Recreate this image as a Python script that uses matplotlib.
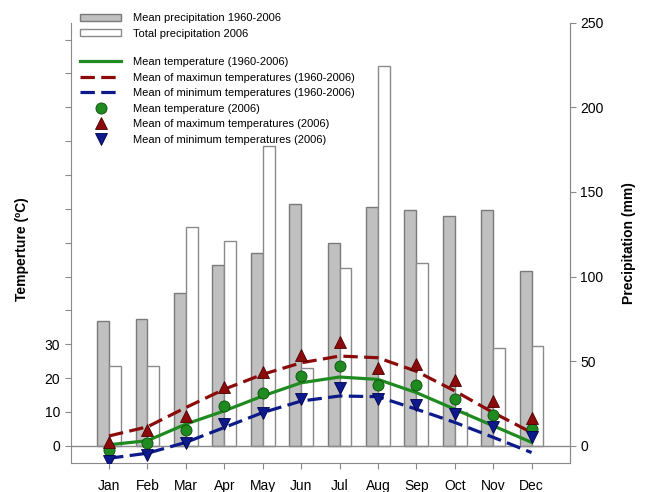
import numpy as np
import matplotlib.pyplot as plt
from matplotlib.patches import Patch
from matplotlib.lines import Line2D

plt.rcParams['font.family'] = ['Liberation Sans', 'DejaVu Sans']

months = ["Jan", "Feb", "Mar", "Apr", "May", "Jun",
          "Jul", "Aug", "Sep", "Oct", "Nov", "Dec"]

# precipitation (mm)
prec_mean = [74, 75, 90, 107, 114, 143, 120, 141, 139, 136, 139, 103.5]
prec_2006 = [47, 47, 129, 121, 177, 46, 105, 224.5, 108, 20, 58, 59]

# temperatures 1960-2006 (ºC)
t_mean = [0.3, 1.5, 6.4, 10.3, 14.7, 18.6, 20.3, 19.6, 15.7, 10.8, 5.9, 1.0]
t_max = [2.9, 5.6, 11.3, 16.7, 21.1, 24.5, 26.5, 26.0, 22.0, 16.2, 9.8, 3.9]
t_min = [-3.7, -2.2, 1.0, 5.4, 9.8, 13.2, 14.7, 14.5, 10.8, 6.9, 2.5, -2.0]

# temperatures 2006 (ºC)
t_mean06 = [-1.2, 0.8, 4.7, 11.8, 15.7, 20.6, 23.7, 17.9, 17.9, 13.7, 9.0, 4.9]
t_max06 = [1.2, 4.7, 8.8, 17.5, 21.8, 26.7, 30.6, 23.1, 24.2, 19.3, 13.2, 8.1]
t_min06 = [-4.4, -2.6, 0.8, 6.4, 9.8, 13.9, 17.2, 13.9, 12.0, 9.3, 5.4, 2.5]

x = np.arange(1, 13)
green = "#1f8a1f"
red = "#8b0a0a"
blue = "#0c1a8a"
spine_c = "#8a8a8a"

fig = plt.figure(figsize=(6.46, 4.92), dpi=100)
ax = fig.add_axes([0.1094, 0.0596, 0.7729, 0.8944])
ax2 = ax.twinx()

w = 0.31
ax2.bar(x, prec_mean, width=-w, align='edge', color="#c0c0c0",
        edgecolor="#7a7a7a", linewidth=1.0)
ax2.bar(x, prec_2006, width=w, align='edge', color="white",
        edgecolor="#8a8a8a", linewidth=1.0)
ax2.set_ylim(-10, 250)
ax2.set_yticks(np.arange(0, 251, 50))

ax.set_zorder(ax2.get_zorder() + 1)
ax.patch.set_visible(False)

ax.axhline(0, color=spine_c, lw=1.0, zorder=1)
ax.plot(x, t_mean, color=green, lw=2.3, zorder=3)
ax.plot(x, t_max, color=red, lw=2.3, ls=(0, (4.5, 2)), zorder=3)
ax.plot(x, t_min, color=blue, lw=2.3, ls=(0, (4.5, 2)), zorder=3)
ax.plot(x, t_mean06, 'o', color=green, ms=8, mec="#0d4d0d", mew=0.6, zorder=4)
ax.plot(x, t_max06, '^', color=red, ms=8, mec="#4d0000", mew=0.6, zorder=4)
ax.plot(x, t_min06, 'v', color=blue, ms=8, mec="#00004d", mew=0.6, zorder=4)

ax.set_xlim(0, 13)
ax.set_ylim(-5, 125)
ax.set_yticks(np.arange(0, 121, 10))
ax.set_yticklabels(["0", "10", "20", "30"] + [""] * 9)
ax.set_xticks(x)
ax.set_xticklabels(months)

for a in (ax, ax2):
    a.spines['top'].set_visible(False)
    for s in a.spines.values():
        s.set_color(spine_c)
    a.tick_params(colors=spine_c, labelcolor="black", labelsize=10,
                  length=4, width=0.8)
ax.tick_params(axis='x', pad=8)
ax2.spines['left'].set_visible(False)
ax2.spines['bottom'].set_visible(False)

ax.set_ylabel("Temperture (ºC)", fontsize=10, fontweight='bold')
ax.yaxis.set_label_coords(-0.083, 0.485)
ax2.set_ylabel("Precipitation (mm)", fontsize=10, fontweight='bold', labelpad=13)

bar_handles = [Patch(facecolor="#c0c0c0", edgecolor="#7a7a7a"),
               Patch(facecolor="white", edgecolor="#8a8a8a")]
bar_labels = ["Mean precipitation 1960-2006", "Total precipitation 2006"]
leg1 = ax.legend(bar_handles, bar_labels, loc='upper left',
                 bbox_to_anchor=(80 / 646, 1 - 13 / 492),
                 bbox_transform=fig.transFigure, frameon=False, fontsize=8,
                 handlelength=3.7, handleheight=0.6, handletextpad=1.1,
                 labelspacing=0.5, borderpad=0, borderaxespad=0)
ax.add_artist(leg1)

line_handles = [
    Line2D([], [], color=green, lw=2.3),
    Line2D([], [], color=red, lw=2.3, ls=(0, (4.5, 2))),
    Line2D([], [], color=blue, lw=2.3, ls=(0, (4.5, 2))),
    Line2D([], [], marker='o', ls='', color=green, ms=8, mec="#0d4d0d", mew=0.6),
    Line2D([], [], marker='^', ls='', color=red, ms=8, mec="#4d0000", mew=0.6),
    Line2D([], [], marker='v', ls='', color=blue, ms=8, mec="#00004d", mew=0.6),
]
line_labels = ["Mean temperature (1960-2006)",
               "Mean of maximun temperatures (1960-2006)",
               "Mean of minimum temperatures (1960-2006)",
               "Mean temperature (2006)",
               "Mean of maximum temperatures (2006)",
               "Mean of minimum temperatures (2006)"]
ax.legend(line_handles, line_labels, loc='upper left',
          bbox_to_anchor=(80 / 646, 1 - 57 / 492),
          bbox_transform=fig.transFigure, frameon=False, fontsize=8,
          handlelength=3.7, handletextpad=1.1,
          labelspacing=0.5, borderpad=0, borderaxespad=0)

plt.savefig("out.png", dpi=100)
